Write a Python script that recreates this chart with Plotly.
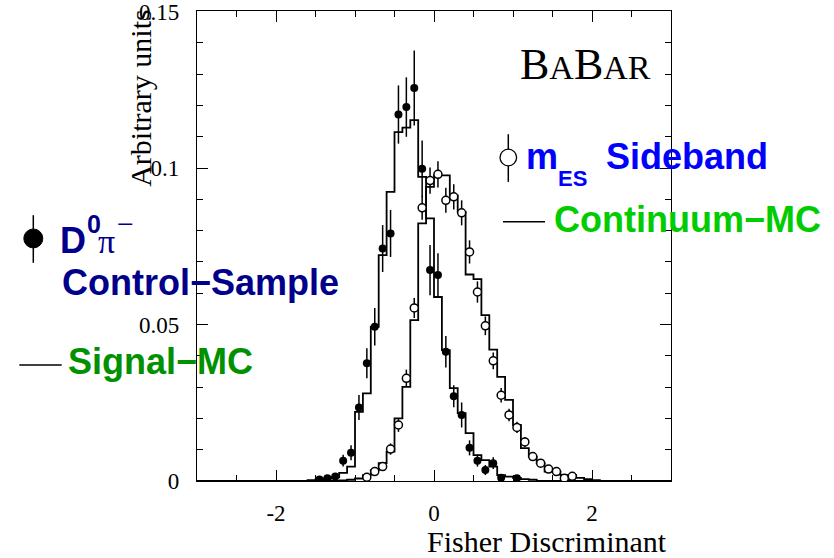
import numpy as np
import plotly.graph_objects as go

# Fisher discriminant binning
X_MIN, X_MAX, BIN_W = -3.0, 3.0, 0.1

# Signal-MC histogram (arbitrary units), first bin starts at SIG_START
SIG_START = -1.6
sig_mc = [0.0003, 0.0005, 0.0008, 0.0012, 0.0026, 0.0046, 0.0221, 0.0280, 0.0493, 0.0722,
          0.0924, 0.1115, 0.1129, 0.1153, 0.0972, 0.0839, 0.0588, 0.0418, 0.0297, 0.0217,
          0.0153, 0.0083, 0.0067, 0.0046, 0.0019, 0.0014, 0.0010, 0.0006, 0.0004]

# Continuum-MC histogram, first bin starts at CONT_START
CONT_START = -1.2
cont_mc = [0.0002, 0.0004, 0.0008, 0.0019, 0.0035, 0.0057, 0.0094, 0.0200, 0.0301, 0.0514,
           0.0823, 0.0940, 0.0977, 0.0977, 0.0913, 0.0860, 0.0660, 0.0645, 0.0530, 0.0420,
           0.0333, 0.0259, 0.0179, 0.0105, 0.0078, 0.0057, 0.0030, 0.0030, 0.0019, 0.0019,
           0.0010, 0.0006, 0.0003]

# D0 pi- control sample (filled points)
d0pi_x = [-1.45, -1.35, -1.25, -1.15, -1.05, -0.95, -0.85, -0.75, -0.65, -0.55, -0.45, -0.35,
          -0.25, -0.15, -0.05, 0.05, 0.15, 0.25, 0.35, 0.45, 0.55, 0.65, 0.75, 0.85, 1.05]
d0pi_y = [0.0005, 0.0009, 0.0014, 0.0065, 0.0090, 0.0235, 0.0376, 0.0493, 0.0743, 0.0791,
          0.1171, 0.1195, 0.1256, 0.0998, 0.0674, 0.0658, 0.0413, 0.0271, 0.0211, 0.0106,
          0.0065, 0.0035, 0.0057, 0.0010, 0.0009]
d0pi_err = [0.0005, 0.0007, 0.0009, 0.0019, 0.0024, 0.0040, 0.0048, 0.0060, 0.0075, 0.0075,
            0.0093, 0.0095, 0.0120, 0.0090, 0.0080, 0.0070, 0.0050, 0.0035, 0.0040, 0.0024,
            0.0019, 0.0016, 0.0019, 0.0009, 0.0009]

# m_ES sideband (open points)
side_x = [-0.85, -0.75, -0.65, -0.55, -0.45, -0.35, -0.25, -0.15, -0.05, 0.05, 0.15, 0.25,
          0.35, 0.45, 0.55, 0.65, 0.75, 0.85, 0.95, 1.05, 1.15, 1.25, 1.35, 1.45, 1.55, 1.65, 1.75]
side_y = [0.0012, 0.0030, 0.0046, 0.0102, 0.0179, 0.0328, 0.0553, 0.0873, 0.0960, 0.0980,
          0.0897, 0.0908, 0.0857, 0.0732, 0.0604, 0.0496, 0.0384, 0.0274, 0.0211, 0.0171,
          0.0125, 0.0078, 0.0057, 0.0038, 0.0030, 0.0009, 0.0015]
side_err = [0.0008, 0.0012, 0.0014, 0.0018, 0.0022, 0.0028, 0.0032, 0.0038, 0.0042, 0.0042,
            0.0040, 0.0040, 0.0040, 0.0037, 0.0034, 0.0030, 0.0027, 0.0023, 0.0020, 0.0018,
            0.0016, 0.0013, 0.0011, 0.0009, 0.0008, 0.0005, 0.0006]

Y_MAX = 0.15
x_tickvals = [-2, 0, 2]
x_ticktext = ["-2", "0", "2"]
y_tickvals = [0, 0.05, 0.1, 0.15]
y_ticktext = ["0", "0.05", "0.1", "0.15"]

edges = np.round(np.arange(X_MIN, X_MAX + BIN_W / 2, BIN_W), 3)
nbins = len(edges) - 1


def full_hist(start, vals):
    h = np.zeros(nbins)
    i0 = int(round((start - X_MIN) / BIN_W))
    h[i0:i0 + len(vals)] = vals
    return np.append(h, h[-1])


fig = go.Figure()
for vals, start in ((sig_mc, SIG_START), (cont_mc, CONT_START)):
    fig.add_trace(go.Scatter(x=edges, y=full_hist(start, vals), mode="lines",
                             line=dict(color="black", width=1.8, shape="hv"),
                             hoverinfo="skip"))

fig.add_trace(go.Scatter(
    x=d0pi_x, y=d0pi_y, mode="markers",
    marker=dict(color="black", size=8),
    error_y=dict(type="data", array=d0pi_err, color="black", thickness=1.5, width=0)))
fig.add_trace(go.Scatter(
    x=side_x, y=side_y, mode="markers",
    marker=dict(color="white", size=8, line=dict(color="black", width=1.5)),
    error_y=dict(type="data", array=side_err, color="black", thickness=1.5, width=0)))

# plot-area geometry in pixels
L, R, T, B = 197, 671, 10.7, 481
W_PX, H_PX = R - L, B - T


def fx(px):
    return (px - L) / W_PX


def fy(py):
    return (B - py) / H_PX


axis_common = dict(showgrid=False, zeroline=False, showline=True, linecolor="black",
                   linewidth=1.3, mirror="ticks", ticks="inside", ticklen=11,
                   tickwidth=1.3, tickcolor="black", automargin=False,
                   ticklabeloverflow="allow",
                   tickfont=dict(family="Liberation Serif", size=23, color="black"))

fig.update_xaxes(range=[X_MIN, X_MAX], tickmode="array", tickvals=x_tickvals,
                 ticktext=x_ticktext, ticklabelstandoff=11,
                 minor=dict(tickmode="array",
                            tickvals=[v for v in np.arange(-2.5, 3.0, 0.5) if abs(v) % 2 > 1e-6],
                            ticks="inside", ticklen=5.5, tickwidth=1.3, tickcolor="black"),
                 **axis_common)
fig.update_yaxes(range=[0, Y_MAX + 0.0002], tickmode="array", tickvals=y_tickvals,
                 ticktext=y_ticktext, ticklabelstandoff=12,
                 minor=dict(tickmode="array",
                            tickvals=[round(v, 2) for v in np.arange(0.01, 0.15, 0.01)
                                      if round(v, 2) not in (0.05, 0.1)],
                            ticks="inside", ticklen=5.5, tickwidth=1.3, tickcolor="black"),
                 **axis_common)

NAVY, BLUE, GREEN_DK, GREEN = "#00008B", "#0000FF", "#009100", "#00CC00"
SANS, SERIF = "Liberation Sans", "Liberation Serif"


def label(text, left, mid, family, size, color, **kw):
    fig.add_annotation(text=text, xref="paper", yref="paper", x=fx(left), y=fy(mid),
                       xanchor=kw.pop("xanchor", "left"), yanchor=kw.pop("yanchor", "middle"),
                       showarrow=False, borderpad=0,
                       font=dict(family=family, size=size, color=color), **kw)


# axis titles
label("Arbitrary units", 141, 9, SERIF, 30, "black", xanchor="center", yanchor="top",
      textangle=-90)
label("Fisher Discriminant", 668, 542, SERIF, 30, "black", xanchor="right")

# experiment logo
label("B<span style='font-size:34px'>A</span>B<span style='font-size:34px'>AR</span>",
      519, 64, SERIF, 44, "black")

# legend texts
label("<b>D</b>", 59, 240, SANS, 36, NAVY)
label("<b>0</b>", 86, 224, SANS, 25, NAVY)
label("\u03c0", 97, 241.5, SERIF, 34, NAVY)
label("\u2212", 116, 223.5, SERIF, 30, NAVY)
label("<b>Control\u2212Sample</b>", 61, 282.5, SANS, 36, NAVY)
label("<b>Signal\u2212MC</b>", 67, 361.5, SANS, 36, GREEN_DK)
label("<b>m</b>", 525, 156, SANS, 36, BLUE)
label("<b>ES</b>", 557, 178, SANS, 22, BLUE)
label("<b>Sideband</b>", 605, 156, SANS, 36, BLUE)
label("<b>Continuum\u2212MC</b>", 553, 219.5, SANS, 36, GREEN)

# legend glyphs
shapes = [
    dict(type="line", x0=fx(33.3), x1=fx(33.3), y0=fy(215), y1=fy(262.7),
         line=dict(color="black", width=1.5)),
    dict(type="circle", x0=fx(23.8), x1=fx(42.8), y0=fy(247.8), y1=fy(228.8),
         fillcolor="black", line=dict(color="black", width=1)),
    dict(type="line", x0=fx(508.3), x1=fx(508.3), y0=fy(134), y1=fy(181.7),
         line=dict(color="black", width=1.5)),
    dict(type="circle", x0=fx(500), x1=fx(516.6), y0=fy(165.6), y1=fy(149),
         fillcolor="white", line=dict(color="black", width=1.3)),
    dict(type="line", x0=fx(503), x1=fx(545), y0=fy(221.7), y1=fy(221.7),
         line=dict(color="black", width=1.5)),
    dict(type="line", x0=fx(19.3), x1=fx(61.7), y0=fy(365), y1=fy(365),
         line=dict(color="black", width=1.5)),
]
for s in shapes:
    s.update(xref="paper", yref="paper")

fig.update_layout(width=834, height=558, showlegend=False,
                  margin=dict(l=L, r=834 - R, t=T, b=558 - B, autoexpand=False),
                  plot_bgcolor="white", paper_bgcolor="white", shapes=shapes)

fig.write_html("out.html")
